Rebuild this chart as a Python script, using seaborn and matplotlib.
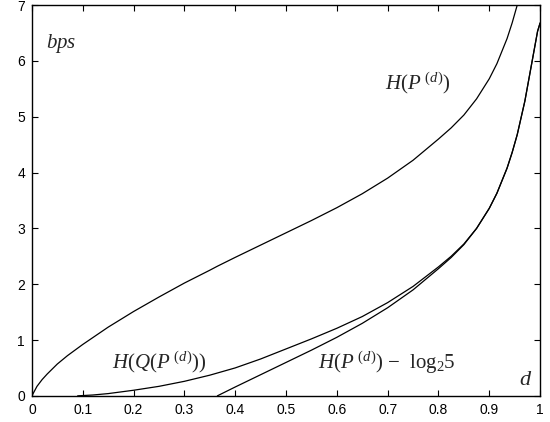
import numpy as np
import pandas as pd
import seaborn as sns
import matplotlib.pyplot as plt

# values
d_h = [0, 0.01, 0.02, 0.03, 0.05, 0.07, 0.1, 0.15, 0.2, 0.25, 0.3, 0.35, 0.365, 0.4,
       0.45, 0.5, 0.55, 0.6, 0.65, 0.7, 0.75, 0.8, 0.825, 0.85, 0.875, 0.9, 0.915,
       0.935, 0.945, 0.955, 0.97, 0.985, 0.995, 1.0]
h_p = [0, 0.17, 0.29, 0.39, 0.57, 0.72, 0.92, 1.23, 1.51, 1.77, 2.02, 2.25, 2.322, 2.48,
       2.7, 2.92, 3.14, 3.37, 3.62, 3.9, 4.22, 4.6, 4.8, 5.03, 5.32, 5.68, 5.95,
       6.4, 6.68, 7.0, 7.6, 8.35, 8.85, 9.0]

d_q = [0.09, 0.12, 0.15, 0.2, 0.25, 0.3, 0.35, 0.4, 0.45, 0.5, 0.55, 0.6, 0.65, 0.7,
       0.75, 0.8, 0.825, 0.85, 0.875, 0.9, 0.915, 0.935, 0.945, 0.955, 0.97, 0.985,
       0.995, 1.0]
h_q = [0.0, 0.015, 0.04, 0.1, 0.17, 0.26, 0.37, 0.5, 0.66, 0.84, 1.02, 1.21, 1.42, 1.67,
       1.96, 2.31, 2.5, 2.72, 3.0, 3.36, 3.63, 4.08, 4.36, 4.68, 5.28, 6.03,
       6.53, 6.68]

xticks = [0, 0.1, 0.2, 0.3, 0.4, 0.5, 0.6, 0.7, 0.8, 0.9, 1]
xticklabels = ['0', '0.1', '0.2', '0.3', '0.4', '0.5', '0.6', '0.7', '0.8', '0.9', '1']
yticks = [0, 1, 2, 3, 4, 5, 6, 7]

df = pd.DataFrame({'d': d_h, 'H': h_p})
df['H_minus'] = df['H'] - np.log2(5)
low = df[df['H_minus'] >= 0]
dq = pd.DataFrame({'d': d_q, 'HQ': h_q})

sns.set_style('ticks')
plt.rcParams['font.family'] = ['Liberation Sans', 'DejaVu Sans']
plt.rcParams['mathtext.fontset'] = 'custom'
plt.rcParams['mathtext.rm'] = 'Liberation Serif'
plt.rcParams['mathtext.it'] = 'Liberation Serif:italic'

fig = plt.figure(figsize=(5.5, 4.22), dpi=100)
ax = fig.add_axes([0.058, 0.062, 0.924, 0.926])

sns.lineplot(data=df, x='d', y='H', ax=ax, color='black', linewidth=0.9)
sns.lineplot(data=dq, x='d', y='HQ', ax=ax, color='black', linewidth=0.9)
sns.lineplot(data=low, x='d', y='H_minus', ax=ax, color='black', linewidth=0.9)

ax.set_xlim(0, 1)
ax.set_ylim(0, 7)
ax.set_xticks(xticks)
ax.set_xticklabels(xticklabels)
ax.set_yticks(yticks)
ax.set_xlabel('')
ax.set_ylabel('')
ax.tick_params(direction='in', top=True, right=True, length=4, width=0.8,
               labelsize=10, pad=5, colors='black')
for s in ax.spines.values():
    s.set_visible(True)
    s.set_linewidth(1.0)
    s.set_color('black')

fs = 15
ax.text(0.028, 6.32, '$bps$', fontsize=fs, va='center', ha='left')
ax.text(0.695, 5.6, r'$H(P^{\ (d)})$', fontsize=fs, va='center', ha='left')
ax.text(0.157, 0.6, r'$H(Q(P^{\ (d)}))$', fontsize=fs, va='center', ha='left')
ax.text(0.563, 0.59, r'$H(P^{\ (d)})\ \mathrm{-\ \ log}_{2}\mathrm{5}$', fontsize=fs,
        va='center', ha='left')
ax.text(0.985, 0.29, '$d$', fontsize=fs + 1, va='center', ha='right')

fig.savefig('out.png', dpi=100)
